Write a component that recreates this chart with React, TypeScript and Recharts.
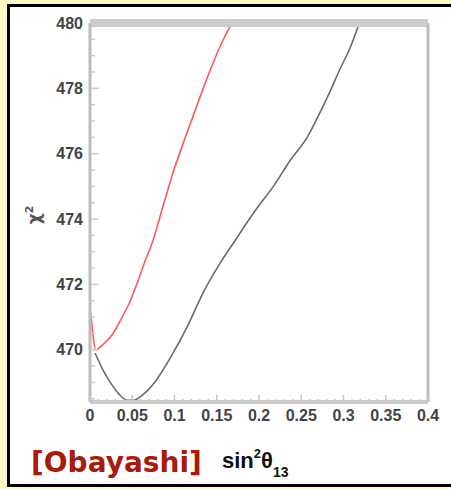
import { Line, LineChart, XAxis, YAxis } from 'recharts'

// red curve (sin^2 theta13, chi^2)
const redX = [0.001, 0.007, 0.015, 0.026, 0.036, 0.046, 0.056, 0.065, 0.074, 0.086, 0.098, 0.11, 0.122, 0.134, 0.146, 0.157, 0.168]
const redY = [471.1, 470.0, 470.15, 470.45, 470.9, 471.4, 472.05, 472.7, 473.3, 474.35, 475.4, 476.3, 477.15, 478.0, 478.8, 479.45, 480.0]

// grey curve
const greyX = [0.006, 0.015, 0.024, 0.034, 0.044, 0.052, 0.059, 0.075, 0.095, 0.115, 0.134, 0.154, 0.172, 0.186, 0.201, 0.217, 0.237, 0.257, 0.272, 0.284, 0.296, 0.308, 0.318]
const greyY = [469.9, 469.4, 469.0, 468.65, 468.45, 468.45, 468.55, 468.95, 469.75, 470.7, 471.75, 472.65, 473.35, 473.9, 474.45, 475.0, 475.8, 476.5, 477.25, 477.9, 478.6, 479.25, 479.95]

const xLabels = [0, 0.05, 0.1, 0.15, 0.2, 0.25, 0.3, 0.35, 0.4]
const yLabels = [470, 472, 474, 476, 478, 480]

// minor ticks (every 0.01 on x, every 0.5 on y)
const xTicks: number[] = []
for (let i = 0; i <= 40; i++) xTicks.push(Number((i * 0.01).toFixed(2)))
const yTicks: number[] = []
for (let i = 0; i <= 23; i++) yTicks.push(468.5 + i * 0.5)

const red = redX.map((x, i) => ({ x, y: redY[i] }))
const grey = greyX.map((x, i) => ({ x, y: greyY[i] }))

const tickFont = { fontFamily: 'Liberation Sans, Arial, sans-serif', fontSize: 16, fontWeight: 700, fill: '#444' }

function XTick(props: any) {
  const { x, y, payload } = props
  const v = payload.value
  const major = xLabels.some(l => Math.abs(l - v) < 1e-6)
  return (
    <g>
      <line x1={x} x2={x} y1={y - 1} y2={y - (major ? 7 : 3)} stroke="#c4c4c4" strokeWidth={1.5} />
      {major && (
        <text x={x} y={y + 19} textAnchor="middle" {...tickFont}>
          {v === 0 ? '0' : String(v)}
        </text>
      )}
    </g>
  )
}

function YTick(props: any) {
  const { x, y, payload } = props
  const v = payload.value
  const major = yLabels.includes(v)
  return (
    <g>
      <line x1={x + 1} x2={x + (major ? 9 : 5)} y1={y} y2={y} stroke="#cccccc" strokeWidth={1.5} />
      {major && (
        <text x={x - 7} y={y} dy="0.36em" textAnchor="end" {...tickFont}>
          {v}
        </text>
      )}
    </g>
  )
}

export default function App() {
  return (
    <div style={{ position: 'absolute', left: 0, top: 0, width: 451, height: 489, background: '#fff9c6', overflow: 'hidden' }}>
      <div style={{ position: 'absolute', left: 7, top: 4, width: 460, height: 477, border: '3px solid #000', background: '#fff' }} />

      <div style={{ position: 'absolute', left: 0, top: 0 }}>
        <LineChart width={451} height={489} margin={{ top: 22, right: 22, bottom: 57, left: 0 }}>
          <XAxis
            dataKey="x"
            type="number"
            domain={[0, 0.4]}
            ticks={xTicks}
            interval={0}
            height={30}
            tickSize={0}
            tickMargin={0}
            tickLine={false}
            axisLine={{ stroke: '#cccccc', strokeWidth: 4 }}
            tick={<XTick />}
          />
          <XAxis
            xAxisId="top"
            orientation="top"
            type="number"
            domain={[0, 0.4]}
            height={1}
            tick={false}
            tickLine={false}
            axisLine={{ stroke: '#cccccc', strokeWidth: 8 }}
          />
          <YAxis
            dataKey="y"
            type="number"
            domain={[468.4, 480]}
            allowDataOverflow
            ticks={yTicks}
            interval={0}
            width={90}
            tickSize={0}
            tickMargin={0}
            tickLine={false}
            axisLine={{ stroke: '#bbbbbb', strokeWidth: 3 }}
            tick={<YTick />}
          />
          <YAxis
            yAxisId="right"
            orientation="right"
            type="number"
            domain={[468.4, 480]}
            width={1}
            tick={false}
            tickLine={false}
            axisLine={{ stroke: '#bbbbbb', strokeWidth: 3 }}
          />
          <Line data={grey} dataKey="y" type="monotone" stroke="#6b6b6b" strokeWidth={1.6} dot={false} isAnimationActive={false} />
          <Line data={red} dataKey="y" type="monotone" stroke="#ff5757" strokeWidth={1.6} dot={false} isAnimationActive={false} />
        </LineChart>
      </div>

      <svg width={451} height={489} style={{ position: 'absolute', left: 0, top: 0, pointerEvents: 'none' }}>
        <text transform="rotate(-90, 40, 215)" x={40} y={215} textAnchor="middle" fontFamily="DejaVu Sans, sans-serif" fontWeight={700} fontSize={17} fill="#555">
          χ<tspan dy={-7} fontSize={11}>2</tspan>
        </text>
        <text x={31} y={472} fontFamily="DejaVu Sans, sans-serif" fontWeight={700} fontSize={28} fill="#aa1a0a">
          [Obayashi]
        </text>
        <text x={222} y={468} fontFamily="Liberation Sans, Arial, sans-serif" fontWeight={700} fontSize={22} fill="#111">
          sin<tspan dy={-10} fontSize={13}>2</tspan>
          <tspan dy={10}>θ</tspan>
          <tspan dy={9} fontSize={14}>13</tspan>
        </text>
      </svg>
    </div>
  )
}
